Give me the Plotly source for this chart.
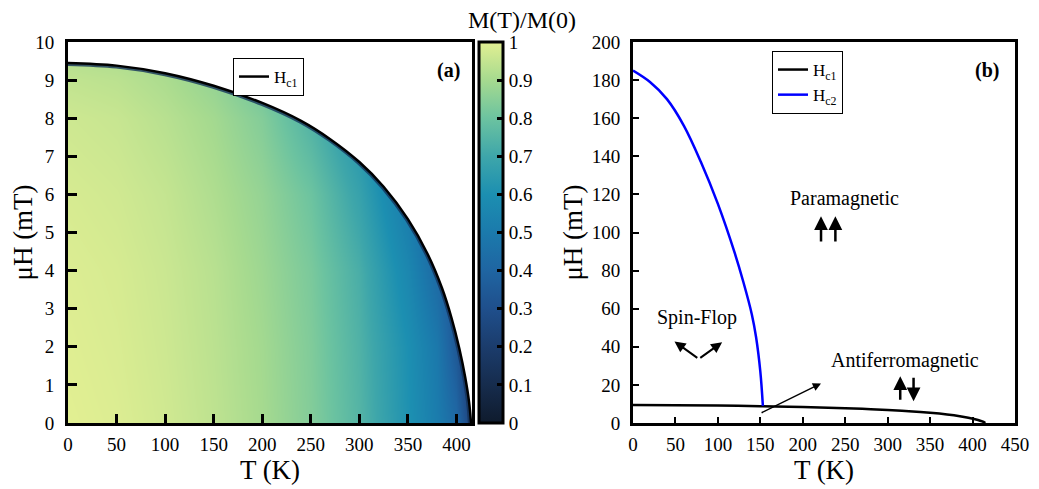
import plotly.graph_objects as go

# ---------------- data ----------------
T_grid = [0, 50, 100, 150, 200, 250, 300, 350, 380, 400, 410, 416]
H_grid = [0, 2, 4, 6, 8, 9, 10]
M_H0 = [1.00, 0.99, 0.97, 0.94, 0.90, 0.84, 0.75, 0.61, 0.51, 0.42, 0.30, 0.10]
M_H2 = [0.995, 0.985, 0.965, 0.935, 0.895, 0.835, 0.74, 0.60, 0.49, 0.34, 0.22, 0.08]
M_H4 = [0.99, 0.98, 0.96, 0.93, 0.885, 0.825, 0.725, 0.56, 0.42, 0.30, 0.20, 0.05]
M_H6 = [0.98, 0.97, 0.95, 0.915, 0.87, 0.80, 0.68, 0.50, 0.38, 0.28, 0.18, 0.05]
M_H8 = [0.965, 0.955, 0.93, 0.895, 0.84, 0.74, 0.62, 0.45, 0.35, 0.25, 0.15, 0.05]
M_H9 = [0.945, 0.935, 0.91, 0.87, 0.80, 0.70, 0.58, 0.42, 0.32, 0.22, 0.12, 0.05]
M_H10 = [0.91, 0.90, 0.87, 0.82, 0.75, 0.65, 0.54, 0.40, 0.30, 0.20, 0.10, 0.05]

# Hc1 (mT) vs T (K)
T_c1 = [0, 50, 100, 150, 200, 240, 270, 300, 325, 350, 370, 385, 395, 403, 409, 413, 415]
H_c1 = [9.45, 9.38, 9.18, 8.85, 8.40, 7.93, 7.45, 6.85, 6.20, 5.35, 4.45, 3.55, 2.75, 1.95, 1.20, 0.55, 0.0]

# Hc2 (mT) vs T (K)
T_c2 = [0, 20, 40, 60, 80, 100, 120, 130, 140, 145, 150, 153]
H_c2 = [185, 179, 170, 156, 137, 115, 89, 74, 57, 45, 27, 9]

cbar_ticks = [0, 0.1, 0.2, 0.3, 0.4, 0.5, 0.6, 0.7, 0.8, 0.9, 1]

FONT = "Liberation Serif, Times New Roman, serif"

colorscale = [
    [0.0, "#0f1b2d"], [0.1, "#162c4d"], [0.2, "#1b3c6c"], [0.3, "#1f4f8c"],
    [0.4, "#1f65a2"], [0.5, "#1b7aac"], [0.6, "#1c8fb1"], [0.7, "#3ea6aa"],
    [0.8, "#6cc3a0"], [0.9, "#a6da8f"], [1.0, "#e2ef92"],
]

# the page body adds an 8 px offset
OFF = 8
L, R, T, B = 68 - OFF, 24, 42 - OFF, 66
W, H = 1039 - OFF, 489 - OFF
PW = W - L - R
PH = H - T - B


def px_x(p):
    return (p - 68) / PW


def px_y(p):
    return (423 - p) / PH


fig = go.Figure()

fig.add_trace(go.Heatmap(
    x=T_grid, y=H_grid,
    z=[M_H0, M_H2, M_H4, M_H6, M_H8, M_H9, M_H10],
    zmin=0, zmax=1, zsmooth="best", colorscale=colorscale,
    xaxis="x", yaxis="y", hoverinfo="skip",
    colorbar=dict(
        x=px_x(479), xanchor="left", y=0.5, yanchor="middle",
        len=1.0, lenmode="fraction", thickness=24, thicknessmode="pixels",
        outlinewidth=3, outlinecolor="black",
        ticks="inside", ticklen=7, tickwidth=3, tickcolor="black",
        tickvals=cbar_ticks, tickfont=dict(family=FONT, size=19, color="black"),
        xpad=0, ypad=0,
    ),
))

fig.add_trace(go.Scatter(
    x=T_c1, y=H_c1, mode="lines", line=dict(color="rgba(20,50,90,0.8)", width=6, shape="spline"),
    xaxis="x", yaxis="y", showlegend=False, hoverinfo="skip",
))
fig.add_trace(go.Scatter(
    x=T_c1 + [420, 420, -2, -2], y=H_c1 + [0, 10.5, 10.5, H_c1[0]],
    mode="lines", line=dict(width=0, color="white"), fill="toself", fillcolor="white",
    xaxis="x", yaxis="y", showlegend=False, hoverinfo="skip",
))
fig.add_trace(go.Scatter(
    x=T_c1, y=H_c1, mode="lines", line=dict(color="black", width=2.5, shape="spline"),
    name="H<sub>c1</sub>", xaxis="x", yaxis="y", legend="legend",
))

fig.add_trace(go.Scatter(
    x=T_c1, y=H_c1, mode="lines", line=dict(color="black", width=2.5, shape="spline"),
    name="H<sub>c1</sub>", xaxis="x2", yaxis="y2", legend="legend2",
))
fig.add_trace(go.Scatter(
    x=T_c2, y=H_c2, mode="lines", line=dict(color="#0000ff", width=2.5, shape="spline"),
    name="H<sub>c2</sub>", xaxis="x2", yaxis="y2", legend="legend2",
))

axis_common = dict(
    showline=True, linecolor="black", linewidth=3, mirror=True, automargin=False,
    ticks="inside", tickcolor="black", showgrid=False, zeroline=False,
    tickfont=dict(family=FONT, size=19, color="black"),
    title_font=dict(family=FONT, size=27, color="black"),
)

fig.update_layout(
    width=W, height=H,
    margin=dict(l=L, r=R, t=T, b=B, autoexpand=False),
    paper_bgcolor="white", plot_bgcolor="white",
    font=dict(family=FONT, color="black"),
    xaxis=dict(domain=[0, px_x(472)], range=[0, 416], tickvals=[0, 50, 100, 150, 200, 250, 300, 350, 400],
               ticklen=9, tickwidth=3, ticklabelstandoff=2,
               title=dict(text="T (K)", standoff=4), anchor="y", **axis_common),
    yaxis=dict(domain=[0, 1], range=[0, 10], dtick=1, tick0=0, ticklen=9, tickwidth=3, ticklabelstandoff=7,
               title=dict(text="μH (mT)", standoff=4), anchor="x", **axis_common),
    xaxis2=dict(domain=[px_x(633), 1], range=[0, 450], dtick=50, tick0=0, ticklen=6, tickwidth=2,
                ticklabelstandoff=2,
                title=dict(text="T (K)", standoff=4), anchor="y2", **axis_common),
    yaxis2=dict(domain=[0, 1], range=[0, 200], dtick=20, tick0=0, ticklen=6, tickwidth=2, ticklabelstandoff=6,
                title=dict(text="μH (mT)", standoff=2), anchor="x2", **axis_common),
    legend=dict(x=px_x(233), y=px_y(58), xanchor="left", yanchor="top",
                bgcolor="white", bordercolor="black", borderwidth=1,
                font=dict(family=FONT, size=17, color="black"), itemwidth=30),
    legend2=dict(x=px_x(772), y=px_y(51), xanchor="left", yanchor="top",
                 bgcolor="white", bordercolor="black", borderwidth=1, tracegroupgap=0,
                 font=dict(family=FONT, size=17, color="black"), itemwidth=30),
)

ann = []
ann.append(dict(text="M(T)/M(0)", x=px_x(522), y=px_y(20), xref="paper", yref="paper", showarrow=False,
                xanchor="center", yanchor="middle", font=dict(family=FONT, size=24, color="black")))
ann.append(dict(text="<b>(a)</b>", x=px_x(448), y=px_y(57), xref="paper", yref="paper",
                showarrow=False, font=dict(family=FONT, size=20, color="black")))
ann.append(dict(text="<b>(b)</b>", x=px_x(1001), y=px_y(57), xref="paper", yref="paper",
                showarrow=False, font=dict(family=FONT, size=20, color="black")))

for txt, tx, ty in [("Paramagnetic", 249, 118), ("Spin-Flop", 75, 55.5), ("Antiferromagnetic", 320, 33)]:
    ann.append(dict(text=txt, x=tx, y=ty, xref="x2", yref="y2", showarrow=False,
                    font=dict(family=FONT, size=20, color="black")))

# arrows in panel (b): (head_x, head_y, tail_x, tail_y, width)
arrows = [
    (221.5, 108.5, 221.5, 94.5, 2.5), (238.4, 108.5, 238.4, 94.5, 2.5),
    (48.9, 42.8, 77.5, 33.6, 2.0), (105.0, 42.4, 77.5, 33.6, 2.0),
    (314.8, 24.5, 314.8, 11.4, 2.5), (330.5, 11.4, 330.5, 24.5, 2.5),
    (221.5, 20.8, 149.7, 5.0, 1.5),
]
for hx, hy, tx, ty, w in arrows:
    ann.append(dict(x=hx, y=hy, ax=tx, ay=ty, xref="x2", yref="y2", axref="x2", ayref="y2",
                    text="", showarrow=True, arrowhead=2, arrowsize=1.1, arrowwidth=w, arrowcolor="black"))

fig.update_layout(annotations=ann)

fig.write_html("out.html")
